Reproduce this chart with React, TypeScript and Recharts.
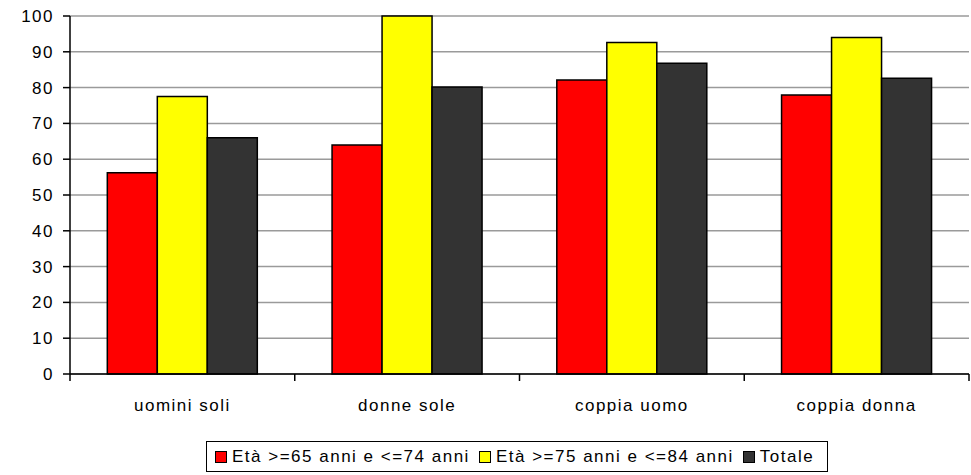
import { Bar, BarChart, CartesianGrid, XAxis, YAxis } from "recharts";

// Values (percentages).
const CATEGORIES = ["uomini soli", "donne sole", "coppia uomo", "coppia donna"];
const ETA_65_74 = [56.2, 64.0, 82.1, 77.9];
const ETA_75_84 = [77.5, 100, 92.6, 94.0];
const TOTALE = [66.0, 80.2, 86.8, 82.6];
const Y_TICKS = [0, 10, 20, 30, 40, 50, 60, 70, 80, 90, 100];

const SERIES = [
  { key: "eta1", name: "Età >=65 anni e <=74 anni", color: "#ff0000", values: ETA_65_74 },
  { key: "eta2", name: "Età >=75 anni e <=84 anni", color: "#ffff00", values: ETA_75_84 },
  { key: "tot", name: "Totale", color: "#333333", values: TOTALE },
];

const data = CATEGORIES.map((label, i) => {
  const row: Record<string, string | number> = { label };
  SERIES.forEach((s) => (row[s.key] = s.values[i]));
  return row;
});

const FONT = '"Liberation Sans", Arial, sans-serif';
const FONT_SIZE = 17;
const SPACING = 1.5;
const TICK = 7;
const TICK_MARGIN = 19;

// Category labels, plus Excel-style tick marks on the band edges.
function CategoryTick(props: any) {
  const { x, y, payload, index, visibleTicksCount } = props;
  const half = payload.offset ?? 0;
  const top = y - TICK_MARGIN - TICK;
  const bottom = y - TICK_MARGIN;
  return (
    <g>
      <line x1={x - half} x2={x - half} y1={top} y2={bottom} stroke="#000" strokeWidth={1.5} />
      {index === visibleTicksCount - 1 && (
        <line x1={x + half} x2={x + half} y1={top} y2={bottom} stroke="#000" strokeWidth={1.5} />
      )}
      <text x={x} y={y - 1} dy="0.71em" textAnchor="middle" fill="#000" fontSize={FONT_SIZE}>
        {payload.value}
      </text>
    </g>
  );
}

export default function App() {
  return (
    <div
      style={{
        position: "absolute",
        left: 0,
        top: 0,
        width: 971,
        height: 475,
        background: "#fff",
        fontFamily: FONT,
        letterSpacing: SPACING,
      }}
    >
      <BarChart
        width={971}
        height={475}
        data={data}
        margin={{ top: 16, right: 2, left: 0, bottom: 61 }}
        barCategoryGap="16.6%"
        barGap={0}
        style={{ fontFamily: FONT, letterSpacing: SPACING }}
      >
        <CartesianGrid vertical={false} stroke="#9a9a9a" strokeWidth={1.5} />
        <XAxis
          dataKey="label"
          height={40}
          tickLine={false}
          tickSize={TICK}
          tickMargin={TICK_MARGIN}
          axisLine={{ stroke: "#000", strokeWidth: 1.5 }}
          tick={<CategoryTick />}
          interval={0}
        />
        <YAxis
          width={70}
          domain={[0, 100]}
          ticks={Y_TICKS}
          interval={0}
          tickSize={TICK}
          tickMargin={9}
          tickLine={{ stroke: "#000", strokeWidth: 1.5 }}
          axisLine={{ stroke: "#000", strokeWidth: 1.5 }}
          tick={{ fill: "#000", fontSize: FONT_SIZE }}
        />
        <YAxis
          yAxisId="right"
          orientation="right"
          width={0}
          domain={[0, 100]}
          tick={false}
          tickLine={false}
          axisLine={{ stroke: "#9a9a9a", strokeWidth: 1.5 }}
        />
        {SERIES.map((s) => (
          <Bar
            key={s.key}
            dataKey={s.key}
            name={s.name}
            fill={s.color}
            stroke="#000"
            strokeWidth={1.5}
            isAnimationActive={false}
          />
        ))}
      </BarChart>
      <div
        style={{
          position: "absolute",
          left: 206,
          top: 441,
          width: 622,
          height: 31,
          boxSizing: "border-box",
          border: "1px solid #000",
          display: "flex",
          alignItems: "center",
          paddingLeft: 8,
          gap: 9,
          fontSize: FONT_SIZE,
          color: "#000",
          whiteSpace: "nowrap",
        }}
      >
        {SERIES.map((s) => (
          <div key={s.key} style={{ display: "flex", alignItems: "center" }}>
            <span
              style={{
                display: "inline-block",
                width: 10,
                height: 10,
                background: s.color,
                border: "1px solid #000",
                marginRight: 5,
              }}
            />
            <span>{s.name}</span>
          </div>
        ))}
      </div>
    </div>
  );
}
